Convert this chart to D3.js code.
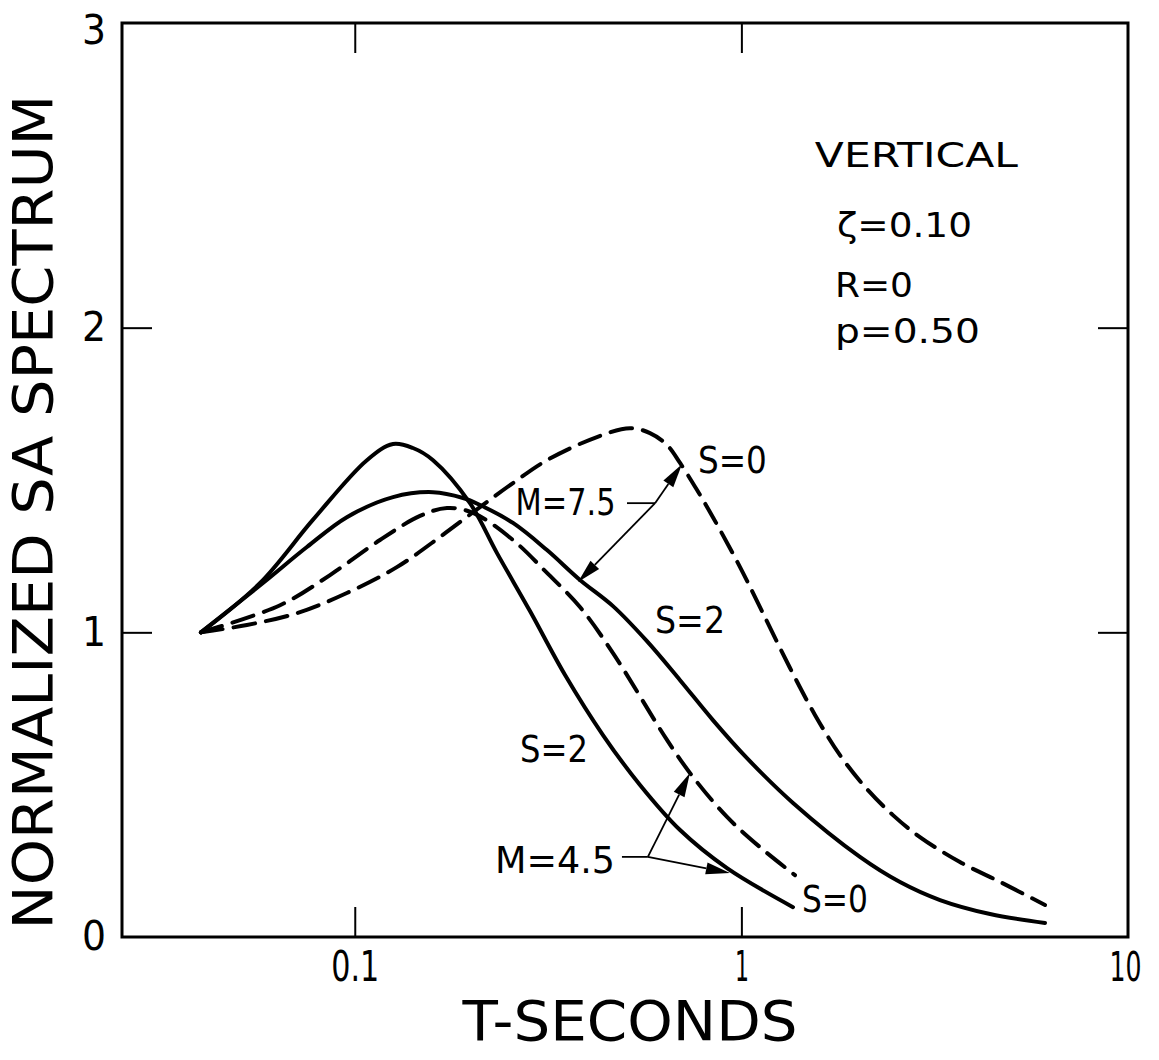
<!DOCTYPE html>
<html><head><meta charset="utf-8">
<script src="https://cdn.jsdelivr.net/npm/d3@7"></script>
<style>body{margin:0;background:#fff} svg{display:block}</style>
</head><body><svg id="c" width="1159" height="1060"></svg>
<script>
// ---------- data ----------
const xTickValues = [0.1, 1, 10];
const xTickLabels = ["0.1", "1", "10"];
const yTickValues = [0, 1, 2, 3];
const yTickLabels = ["0", "1", "2", "3"];

// M=4.5, S=2 (solid, steep)
const tM45S2  = [0.040,0.0569,0.0779,0.1075,0.1256,0.1414,0.1594,0.1986,0.2333,0.2839,0.3499,0.4385,0.5467,0.694,0.918,1.36];
const saM45S2 = [1.00,1.162,1.369,1.565,1.618,1.605,1.565,1.424,1.260,1.070,0.860,0.663,0.499,0.351,0.226,0.098];
// M=4.5, S=0 (dashed)
const tM45S0  = [0.040,0.0641,0.0863,0.1162,0.1475,0.1732,0.2022,0.2566,0.3142,0.3824,0.4655,0.642,0.750,0.918,1.117,1.376];
const saM45S0 = [1.00,1.089,1.188,1.303,1.382,1.408,1.392,1.303,1.195,1.083,0.932,0.647,0.525,0.394,0.295,0.203];
// M=7.5, S=2 (solid)
const tM75S2  = [0.040,0.0579,0.0752,0.0954,0.1256,0.1594,0.1905,0.2108,0.2566,0.3142,0.3824,0.4655,0.5698,0.694,0.844,1.034,1.36,2.026,2.572,3.264,4.397,6.10];
const saM75S2 = [1.00,1.162,1.280,1.378,1.444,1.460,1.441,1.418,1.359,1.270,1.172,1.086,0.971,0.843,0.712,0.587,0.440,0.263,0.1805,0.1214,0.0755,0.046];
// M=7.5, S=0 (dashed)
const tM75S0  = [0.040,0.0526,0.0709,0.0954,0.1285,0.1661,0.2108,0.2566,0.3142,0.4231,0.5150,0.5801,0.642,0.694,0.768,0.844,0.992,1.137,1.336,1.550,1.799,2.101,2.466,2.896,3.675,4.665,6.10];
const saM75S0 = [1.00,1.024,1.063,1.129,1.214,1.313,1.411,1.490,1.565,1.641,1.670,1.654,1.615,1.556,1.467,1.378,1.214,1.063,0.883,0.729,0.597,0.489,0.400,0.328,0.246,0.181,0.105];

const infoLines = ["VERTICAL", "ζ=0.10", "R=0", "p=0.50"];
const xTitle = "T-SECONDS";
const yTitle = "NORMALIZED SA SPECTRUM";

// ---------- layout ----------
const L = 122, R = 1128, T = 23, B = 937;
const FONT = "'DejaVu Sans', sans-serif";
const svg = d3.select("#c");
const x = d3.scaleLog().domain([0.025, 10]).range([L, R]);
const y = d3.scaleLinear().domain([0, 3]).range([B, T]);

const series = [
  {t: tM45S2, v: saM45S2, dash: null},
  {t: tM45S0, v: saM45S0, dash: "22,11"},
  {t: tM75S2, v: saM75S2, dash: null},
  {t: tM75S0, v: saM75S0, dash: "22,11"}
];

// frame
svg.append("rect").attr("x", L).attr("y", T).attr("width", R - L).attr("height", B - T)
  .attr("fill", "none").attr("stroke", "#000").attr("stroke-width", 3);

// axes with inward ticks
const tickIn = 30;
const gx = svg.append("g").attr("transform", `translate(0,${B})`)
  .call(d3.axisBottom(x).tickValues(xTickValues).tickSizeInner(-tickIn).tickSizeOuter(0)
    .tickPadding(14).tickFormat((d, i) => xTickLabels[i]));
const gxt = svg.append("g").attr("transform", `translate(0,${T})`)
  .call(d3.axisTop(x).tickValues(xTickValues.slice(0, 2)).tickSizeInner(-tickIn).tickSizeOuter(0).tickFormat(""));
const gy = svg.append("g").attr("transform", `translate(${L},0)`)
  .call(d3.axisLeft(y).tickValues(yTickValues).tickSizeInner(-tickIn).tickSizeOuter(0)
    .tickPadding(16).tickFormat((d, i) => yTickLabels[i]));
const gyr = svg.append("g").attr("transform", `translate(${R},0)`)
  .call(d3.axisRight(y).tickValues([1, 2]).tickSizeInner(-tickIn).tickSizeOuter(0).tickFormat(""));
[gx, gxt, gy, gyr].forEach(g => {
  g.select(".domain").remove();
  g.selectAll(".tick line").attr("stroke", "#000").attr("stroke-width", 2);
});
gx.selectAll(".tick line").filter(d => d === 10).remove();
gy.selectAll(".tick line").filter(d => d === 0 || d === 3).remove();

gx.selectAll(".tick text").attr("font-family", FONT).attr("font-size", d => d === 10 ? 40 : 42).attr("fill", "#000")
  .attr("lengthAdjust", "spacingAndGlyphs")
  .attr("textLength", d => d === 0.1 ? 48 : d === 1 ? 14 : 32)
  .attr("dy", d => d === 10 ? "0.76em" : "0.71em")
  .attr("x", d => d === 10 ? -3 : 0);
gy.selectAll(".tick text").attr("font-family", FONT).attr("font-size", 40).attr("fill", "#000")
  .attr("lengthAdjust", "spacingAndGlyphs").attr("textLength", 24)
  .attr("dy", d => d === 3 ? "0.5em" : "0.32em");

// axis titles
svg.append("text").attr("x", (L + R) / 2 + 5).attr("y", 1040).attr("text-anchor", "middle")
  .attr("font-family", FONT).attr("font-size", 56).attr("textLength", 335)
  .attr("lengthAdjust", "spacingAndGlyphs").text(xTitle);
svg.append("text").attr("transform", `translate(52,${(T + B) / 2 + 32}) rotate(-90)`)
  .attr("text-anchor", "middle").attr("font-family", FONT).attr("font-size", 56)
  .attr("textLength", 835).attr("lengthAdjust", "spacingAndGlyphs").text(yTitle);

// curves
const line = d3.line().x(d => x(d[0])).y(d => y(d[1])).curve(d3.curveCatmullRom.alpha(0.5));
svg.append("g").selectAll("path").data(series).join("path")
  .attr("d", s => line(s.t.map((t, i) => [t, s.v[i]])))
  .attr("fill", "none").attr("stroke", "#000").attr("stroke-width", 4)
  .attr("stroke-linecap", "round")
  .attr("stroke-dasharray", s => s.dash);

// info block (positions in data units)
const info = [
  {txt: infoLines[0], t: 1.549, v: 2.527, len: 203},
  {txt: infoLines[1], t: 1.767, v: 2.297, len: 135},
  {txt: infoLines[2], t: 1.746, v: 2.100, len: 78},
  {txt: infoLines[3], t: 1.746, v: 1.949, len: 145}
];
svg.append("g").selectAll("text").data(info).join("text")
  .attr("x", d => x(d.t)).attr("y", d => y(d.v))
  .attr("font-family", FONT).attr("font-size", 34)
  .attr("textLength", d => d.len).attr("lengthAdjust", "spacingAndGlyphs")
  .text(d => d.txt);

// curve labels
const labels = [
  {txt: "M=7.5", t: 0.2605, v: 1.385, len: 100},
  {txt: "S=0",   t: 0.772,  v: 1.523, len: 69},
  {txt: "S=2",   t: 0.598,  v: 0.998, len: 70},
  {txt: "S=2",   t: 0.2675, v: 0.574, len: 68},
  {txt: "M=4.5", t: 0.2305, v: 0.210, len: 120},
  {txt: "S=0",   t: 1.434,  v: 0.082, len: 66}
];
svg.append("g").selectAll("text").data(labels).join("text")
  .attr("x", d => x(d.t)).attr("y", d => y(d.v))
  .attr("font-family", FONT).attr("font-size", 37)
  .attr("textLength", d => d.len).attr("lengthAdjust", "spacingAndGlyphs")
  .text(d => d.txt);

// leader lines and arrows (data units)
const leaders = [
  {from: [0.506, 1.424], hub: [0.598, 1.424], tips: [[0.702, 1.552], [0.378, 1.165]]},
  {from: [0.491, 0.263], hub: [0.573, 0.263], tips: [[0.736, 0.538], [0.934, 0.210]]}
];
const ga = svg.append("g");
leaders.forEach(ld => {
  const hx = x(ld.hub[0]), hy = y(ld.hub[1]);
  ga.append("line").attr("x1", x(ld.from[0])).attr("y1", y(ld.from[1]))
    .attr("x2", hx).attr("y2", hy).attr("stroke", "#000").attr("stroke-width", 1.8);
  ld.tips.forEach(tp => {
    const tx = x(tp[0]), ty = y(tp[1]);
    const dx = tx - hx, dy = ty - hy, len = Math.hypot(dx, dy);
    const ux = dx / len, uy = dy / len, nx = -uy, ny = ux;
    const AL = 24, AW = 6;
    const bx = tx - ux * AL, by = ty - uy * AL;
    ga.append("line").attr("x1", hx).attr("y1", hy).attr("x2", bx).attr("y2", by)
      .attr("stroke", "#000").attr("stroke-width", 1.8);
    ga.append("path")
      .attr("d", `M${tx},${ty}L${bx + nx * AW},${by + ny * AW}L${bx - nx * AW},${by - ny * AW}Z`)
      .attr("fill", "#000");
  });
});
</script></body></html>
